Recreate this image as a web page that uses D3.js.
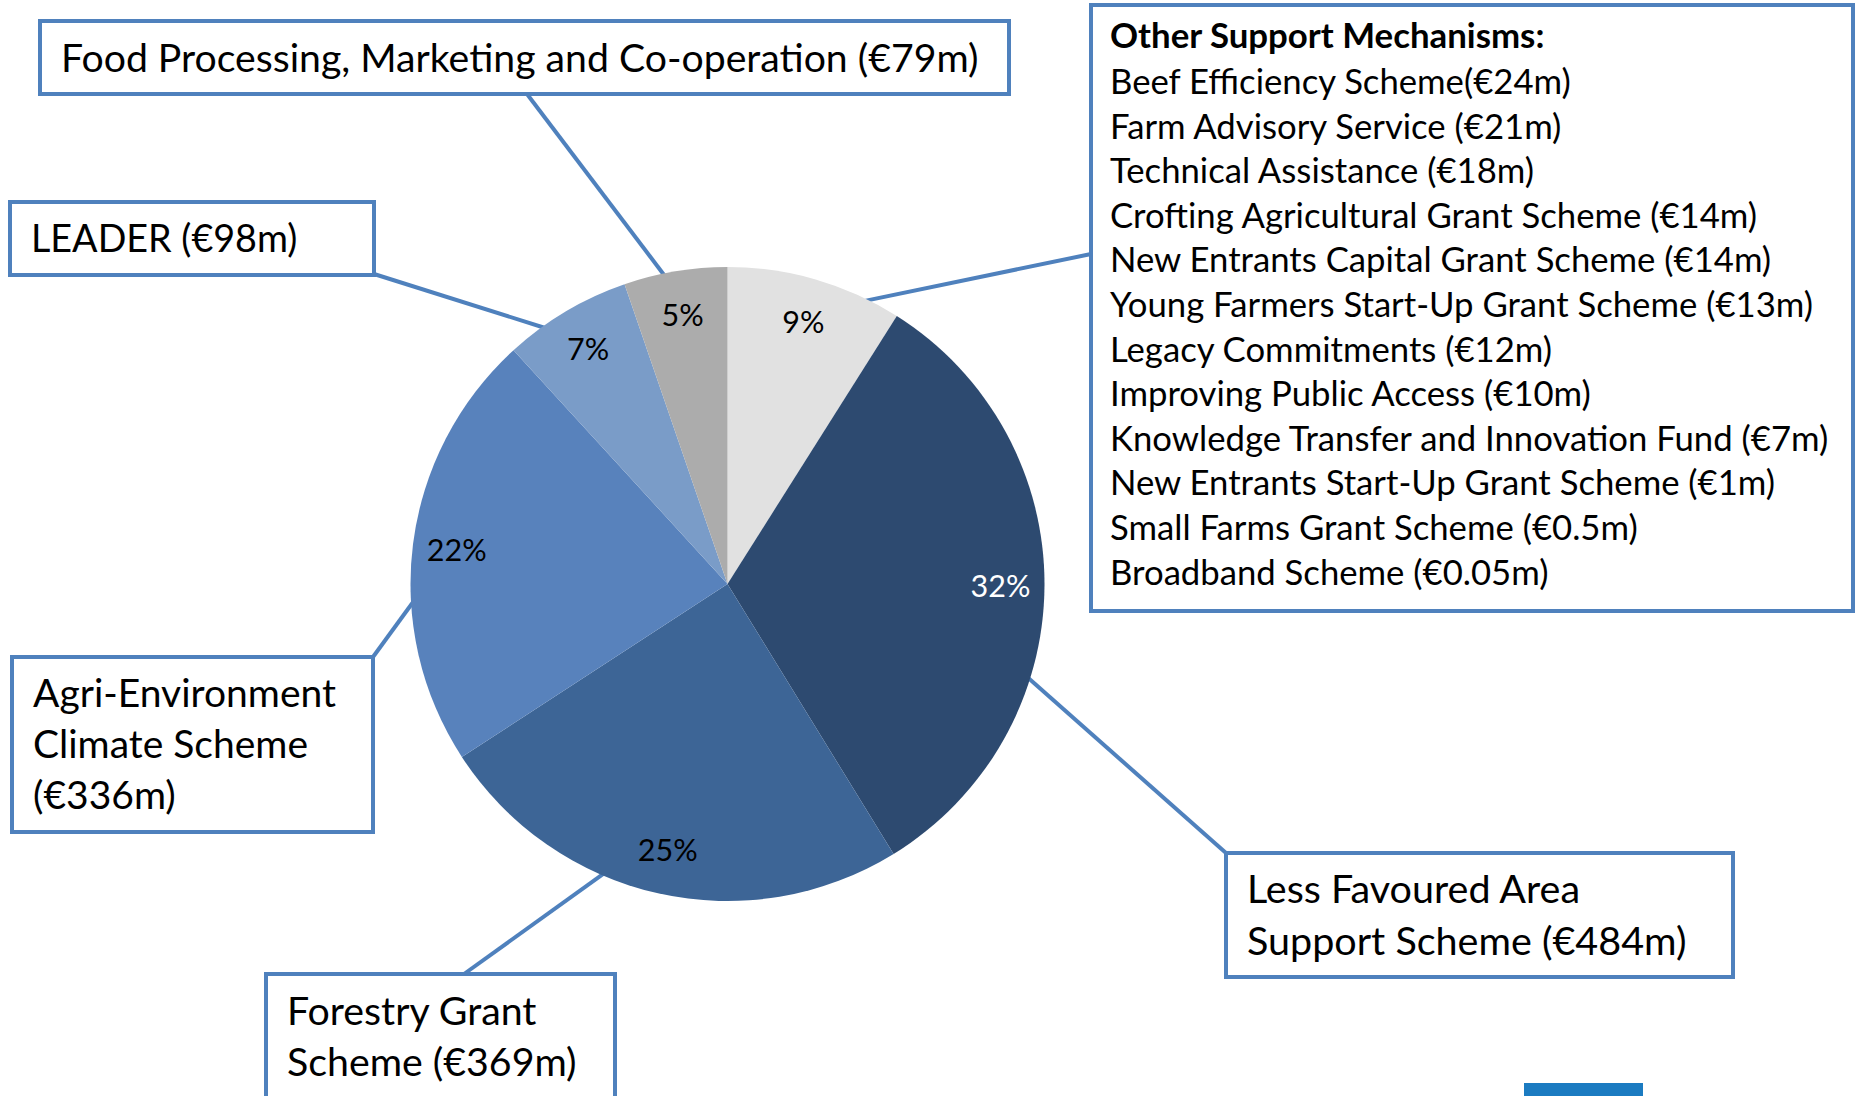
<!DOCTYPE html>
<html>
<head>
<meta charset="utf-8">
<script src="https://cdn.jsdelivr.net/npm/d3@7"></script>
<style>
  body { margin: 0; background: #fff; }
  svg { display: block; font-family: Lato, "Open Sans", sans-serif; }
</style>
</head>
<body>
<div id="pie"></div>
<script>
// Rural development programme budget, € million
const schemes = ["Other Support Mechanisms", "Less Favoured Area Support Scheme", "Forestry Grant Scheme",
    "Agri-Environment Climate Scheme", "LEADER", "Food Processing, Marketing and Co-operation"]
const amounts = [null, 484, 369, 336, 98, 79]   // "Other" is the sum of the list below
const colors = ["#e1e1e1", "#2d4a70", "#3d6596", "#5882bc", "#7a9cc8", "#acacac"]

const otherNames = ["Beef Efficiency Scheme", "Farm Advisory Service", "Technical Assistance",
    "Crofting Agricultural Grant Scheme", "New Entrants Capital Grant Scheme",
    "Young Farmers Start-Up Grant Scheme", "Legacy Commitments", "Improving Public Access",
    "Knowledge Transfer and Innovation Fund", "New Entrants Start-Up Grant Scheme",
    "Small Farms Grant Scheme", "Broadband Scheme"]
const otherAmounts = [24, 21, 18, 14, 14, 13, 12, 10, 7, 1, 0.5, 0.05]

amounts[0] = d3.sum(otherAmounts)

const width = 1855, height = 1096
const cx = 727.5, cy = 584, radius = 317

const svg = d3.select("#pie")
    .append("svg")
    .attr("width", width)
    .attr("height", height)

// callout boxes: box, where the leader leaves the box, angle it hits the pie, line breaks (words per line)
const callouts = [
    { i: 1, box: [1226, 853, 507, 124], from: [1226, 853], angle: 107, words: [3, 3], size: 39.5, top: 903, step: 51.7, left: 1247 },
    { i: 2, box: [266, 974, 349, 140], from: [464, 974], angle: 202.7, words: [2, 2], size: 39.3, top: 1025, step: 50.7, left: 287 },
    { i: 3, box: [12, 657, 361, 175], from: [373, 657], angle: 267.6, words: [1, 2, 1], size: 39, top: 707, step: 51, left: 33 },
    { i: 4, box: [10, 202, 364, 73], from: [374, 274], angle: 325, words: [2], size: 37.7, top: 252, step: 0, left: 31 },
    { i: 5, box: [40, 21, 969, 73], from: [527, 94], angle: 348.8, words: [7], size: 39.2, top: 71.5, step: 0, left: 61 }
]

const pie = d3.pie().sort(null).value(d => d)
const arcs = pie(amounts)
const total = d3.sum(amounts)
const arc = d3.arc().innerRadius(0).outerRadius(radius)
const labelArc = d3.arc().innerRadius(273).outerRadius(273)
const euro = v => `(€${v}m)`

function pieEdge(deg, r) {
    const a = deg * Math.PI / 180
    return [cx + r * Math.sin(a), cy - r * Math.cos(a)]
}

// leader lines go under the pie
const lineStyle = sel => sel.attr("stroke", "#4f81bd").attr("stroke-width", 4).attr("fill", "none")

svg.selectAll(".leader")
    .data(callouts)
    .join("line")
    .attr("class", "leader")
    .attr("x1", d => d.from[0]).attr("y1", d => d.from[1])
    .attr("x2", d => pieEdge(d.angle, radius - 6)[0])
    .attr("y2", d => pieEdge(d.angle, radius - 6)[1])
    .call(lineStyle)

// the Other box connects to the light grey slice
svg.append("line")
    .attr("x1", 1091).attr("y1", 254)
    .attr("x2", pieEdge(25, radius - 6)[0]).attr("y2", pieEdge(25, radius - 6)[1])
    .call(lineStyle)

const g = svg.append("g").attr("transform", `translate(${cx}, ${cy})`)

g.selectAll(".slice")
    .data(arcs)
    .join("path")
    .attr("class", "slice")
    .attr("d", arc)
    .attr("fill", (d, i) => colors[i])

g.selectAll(".pct")
    .data(arcs)
    .join("text")
    .attr("class", "pct")
    .attr("transform", d => `translate(${labelArc.centroid(d)})`)
    .attr("text-anchor", "middle")
    .attr("dy", "0.36em")
    .style("font-size", "30.5px")
    .attr("fill", (d, i) => d3.hsl(colors[i]).l < 0.35 ? "#fff" : "#000")
    .text(d => d3.format(".0%")(d.value / total))

// callout boxes
callouts.forEach(c => {
    const box = svg.append("g")
    box.append("rect")
        .attr("x", c.box[0]).attr("y", c.box[1])
        .attr("width", c.box[2]).attr("height", c.box[3])
        .attr("fill", "#fff")
        .call(lineStyle)

    const words = (schemes[c.i] + " " + euro(amounts[c.i])).split(" ")
    let k = 0
    c.words.forEach((n, j) => {
        box.append("text")
            .attr("x", c.left)
            .attr("y", c.top + j * c.step)
            .style("font-size", c.size + "px")
            .text(words.slice(k, k + n).join(" "))
        k += n
    })
})

// Other support mechanisms list
const other = svg.append("g")
other.append("rect")
    .attr("x", 1091).attr("y", 5)
    .attr("width", 762).attr("height", 606)
    .attr("fill", "#fff")
    .call(lineStyle)

other.append("text")
    .attr("x", 1110).attr("y", 48)
    .style("font-size", "34.8px")
    .style("font-weight", "bold")
    .text(schemes[0] + ":")

other.selectAll(".item")
    .data(otherNames)
    .join("text")
    .attr("class", "item")
    .attr("x", 1110)
    .attr("y", (d, i) => 94 + i * 44.6)
    .style("font-size", "34.7px")
    .text((d, i) => d + (i === 0 ? "" : " ") + euro(otherAmounts[i]))

// piece of the slide footer
svg.append("rect")
    .attr("x", 1524).attr("y", 1083)
    .attr("width", 119).attr("height", 20)
    .attr("fill", "#1b7bc1")
</script>
</body>
</html>
